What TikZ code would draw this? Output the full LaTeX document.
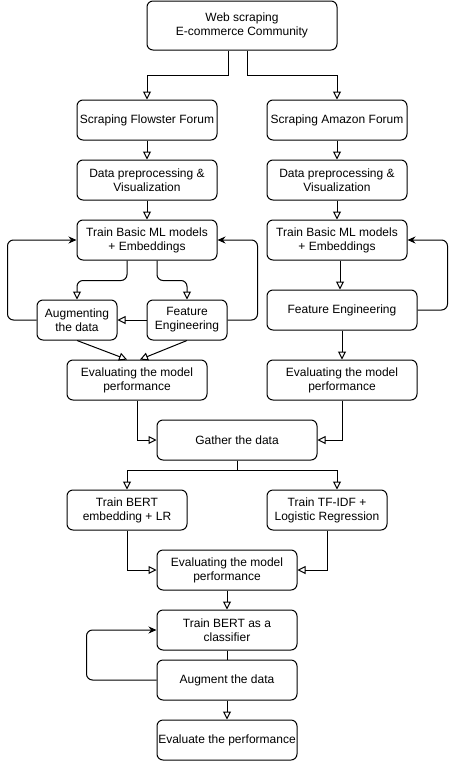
\documentclass[tikz,border=0pt]{standalone}
\usepackage{fontspec}
\setmainfont{Liberation Sans}
\usepackage{tikz}
\usetikzlibrary{arrows.meta}

\begin{document}
\begin{tikzpicture}[x=1pt,y=-1pt,
                    every node/.append style = {font=\fontsize{12}{14}\selectfont},
                    box/.style = {draw, line width=1pt, rounded corners=6pt, align=center,
                                  inner sep=0pt, minimum width=140pt, minimum height=40pt},
                    hollow/.style = {draw, line width=1pt, -{Triangle[open,length=8pt,width=8pt]}},
                    loop/.style = {draw, line width=1pt, rounded corners=6pt, -{Stealth[length=8pt,width=7pt]}}]
                \useasboundingbox (0,0) rectangle (456,761);
                \node[box, minimum width=190pt, minimum height=49pt] (nweb) at (242,25.5) {Web scraping\\E-commerce Community};
                \node[box] (nflow) at (147,120) {Scraping Flowster Forum};
                \node[box] (namz) at (337,120) {Scraping Amazon Forum};
                \node[box] (nprepl) at (147,180) {Data preprocessing \&\\Visualization};
                \node[box] (nprepr) at (337,180) {Data preprocessing \&\\Visualization};
                \node[box] (ntrainl) at (147,240) {Train Basic ML models\\+ Embeddings};
                \node[box] (ntrainr) at (337,240) {Train Basic ML models\\+ Embeddings};
                \node[box, minimum width=80pt] (naug) at (77,320) {Augmenting\\the data};
                \node[box, minimum width=80pt] (nfeatl) at (187,320) {Feature\\Engineering};
                \node[box, minimum width=150pt] (nfeatr) at (342,310) {Feature Engineering};
                \node[box] (nevall) at (137,380) {Evaluating the model\\performance};
                \node[box, minimum width=150pt] (nevalr) at (342,380) {Evaluating the model\\performance};
                \node[box, minimum width=160pt] (ngather) at (237,440) {Gather the data};
                \node[box, minimum width=120pt] (nbert) at (127,510) {Train BERT\\embedding + LR};
                \node[box, minimum width=120pt] (ntfidf) at (327,510) {Train TF-IDF +\\Logistic Regression};
                \node[box] (nevalm) at (227,570) {Evaluating the model\\performance};
                \node[box] (nclass) at (227,630) {Train BERT as a\\classifier};
                \node[box] (naugm) at (227,680) {Augment the data};
                \node[box] (nfinal) at (227,740) {Evaluate the performance};
                \draw[hollow] ([xshift=-14pt]nweb.south) -- ++(0,25) -| (nflow.north);
                \draw[hollow] ([xshift=5pt]nweb.south) -- ++(0,25) -| (namz.north);
                \draw[hollow] (nflow) -- (nprepl);
                \draw[hollow] (namz) -- (nprepr);
                \draw[hollow] (nprepl) -- (ntrainl);
                \draw[hollow] (nprepr) -- (ntrainr);
                \draw[hollow, rounded corners=6pt] ([xshift=-20pt]ntrainl.south) -- ++(0,20) -| (naug.north);
                \draw[hollow, rounded corners=6pt] ([xshift=10pt]ntrainl.south) -- ++(0,20) -| (nfeatl.north);
                \draw[loop] (naug.west) -- ++(-29,0) |- (ntrainl.west);
                \draw[loop] (nfeatl.east) -- ++(30,0) |- (ntrainl.east);
                \draw[hollow] (nfeatl) -- (naug);
                \draw[hollow] (naug.south) -- ([xshift=-10pt]nevall.north);
                \draw[hollow] (nfeatl.south) -- ([xshift=3pt]nevall.north);
                \draw[hollow] ([xshift=3pt]ntrainr.south) -- ([xshift=-2pt]nfeatr.north);
                \draw[loop] (nfeatr.east) -- ++(30,0) |- (ntrainr.east);
                \draw[hollow] (nfeatr) -- (nevalr);
                \draw[hollow] (nevall.south) |- (ngather.west);
                \draw[hollow] (nevalr.south) |- (ngather.east);
                \draw[hollow] (ngather.south) -- ++(0,10) -| (nbert.north);
                \draw[hollow] (ngather.south) -- ++(0,10) -| ([xshift=10pt]ntfidf.north);
                \draw[hollow] (nbert.south) |- (nevalm.west);
                \draw[hollow] (ntfidf.south) |- (nevalm.east);
                \draw[hollow] (nevalm) -- (nclass);
                \draw[line width=1pt] (nclass) -- (naugm);
                \draw[loop] (naugm.west) -- ++(-70,0) |- (nclass.west);
                \draw[hollow] (naugm) -- (nfinal);
\end{tikzpicture}
\end{document}
